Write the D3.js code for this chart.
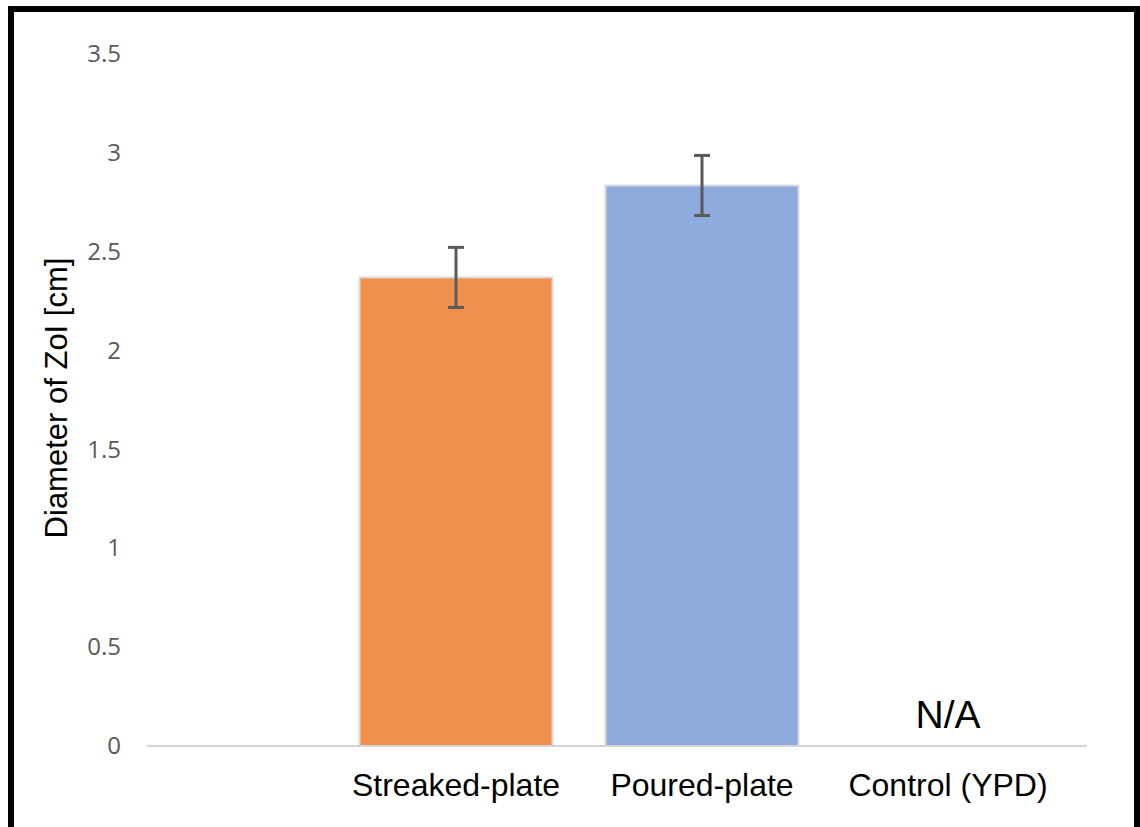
<!DOCTYPE html>
<html><head><meta charset="utf-8">
<script src="https://cdn.jsdelivr.net/npm/d3@7"></script>
<style>html,body{margin:0;padding:0;background:#fff;}</style>
</head><body>
<script>
const categories = ["", "Streaked-plate", "Poured-plate", "Control (YPD)"];
const values = [null, 2.37, 2.835, null];
const errors = [null, 0.152, 0.152, null];
const barColors = [null, "#f0904e", "#8eabdd", null];
const yTicks = [0, 0.5, 1, 1.5, 2, 2.5, 3, 3.5];
const naLabel = "N/A";
const yTitle = "Diameter of ZoI [cm]";

const W = 1140, H = 827;
const svg = d3.select("body").append("svg").attr("width", W).attr("height", H);
svg.append("rect").attr("width", W).attr("height", H).attr("fill", "#fff");

// black frame
svg.append("rect").attr("x", 11).attr("y", 9).attr("width", 1126).attr("height", 840)
  .attr("fill", "none").attr("stroke", "#000").attr("stroke-width", 6);

const y = d3.scaleLinear().domain([0, 3.5]).range([746, 54]);
const x = d3.scaleBand().domain(categories).range([87, 1071]).paddingInner(0.215).paddingOuter(0.1075);

// y tick labels
const yAxis = d3.axisLeft(y).tickValues(yTicks).tickSize(0).tickPadding(0).tickFormat(d3.format("~g"));
const gy = svg.append("g").attr("transform", "translate(121,0)").call(yAxis);
gy.select(".domain").remove();
gy.selectAll("text").attr("fill", "#595959").style("font-family", "'Open Sans', sans-serif").style("font-size", "24px");

// bars
categories.forEach((c, i) => {
  if (values[i] == null) return;
  svg.append("rect").attr("x", x(c)).attr("y", y(values[i]))
    .attr("width", x.bandwidth()).attr("height", y(0) - y(values[i]))
    .attr("fill", barColors[i]).attr("stroke", "#dcdcdc").attr("stroke-width", 2);
});

// x axis line
svg.append("line").attr("x1", 147).attr("x2", 1087).attr("y1", y(0)).attr("y2", y(0))
  .attr("stroke", "#d4d4d4").attr("stroke-width", 2);

// error bars
categories.forEach((c, i) => {
  if (values[i] == null) return;
  const cx = x(c) + x.bandwidth() / 2;
  const g = svg.append("g").attr("stroke", "#595959").attr("stroke-width", 3);
  g.append("line").attr("x1", cx).attr("x2", cx).attr("y1", y(values[i] + errors[i])).attr("y2", y(values[i] - errors[i]));
  [values[i] + errors[i], values[i] - errors[i]].forEach(v => {
    g.append("line").attr("x1", cx - 8).attr("x2", cx + 8).attr("y1", y(v)).attr("y2", y(v));
  });
});

// category labels
const xAxis = d3.axisBottom(x).tickSize(0).tickPadding(0);
const gx = svg.append("g").attr("transform", `translate(0,${y(0)})`).call(xAxis);
gx.select(".domain").remove();
gx.selectAll("text").attr("dy", null).attr("y", 50).attr("fill", "#000")
  .style("font-family", "'Liberation Sans', Arial, sans-serif").style("font-size", "32px");

// N/A
svg.append("text").attr("x", x("Control (YPD)") + x.bandwidth() / 2).attr("y", 728)
  .attr("text-anchor", "middle").style("font-family", "'Liberation Sans', Arial, sans-serif")
  .style("font-size", "39px").attr("fill", "#000").text(naLabel);

// y title
svg.append("text").attr("transform", "translate(67,398) rotate(-90)").attr("text-anchor", "middle")
  .style("font-family", "'Liberation Sans', Arial, sans-serif").style("font-size", "31px").attr("fill", "#000").text(yTitle);
</script>
</body></html>
